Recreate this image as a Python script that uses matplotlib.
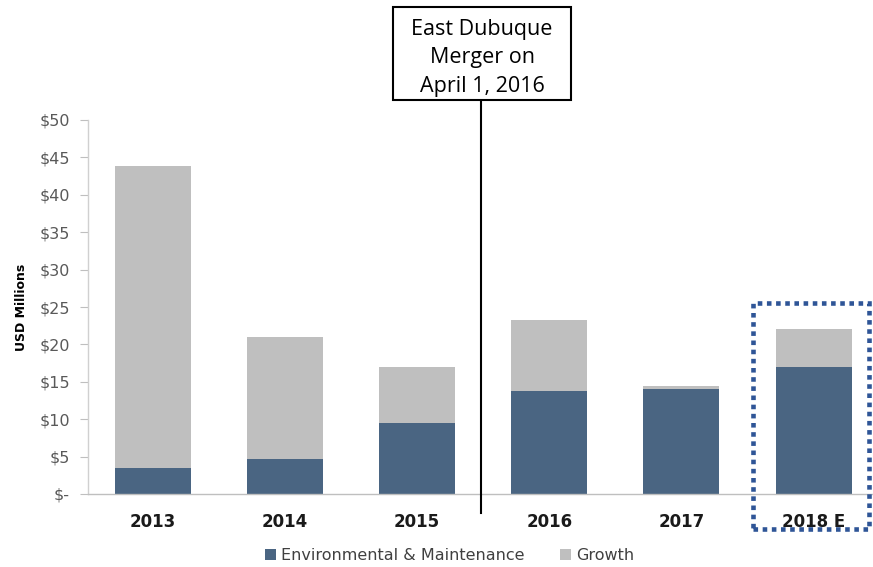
import matplotlib
matplotlib.use("Agg")
import matplotlib.pyplot as plt
from matplotlib.patches import Rectangle
import matplotlib.transforms as mtransforms

categories = ["2013", "2014", "2015", "2016", "2017", "2018 E"]
env_maint = [3.5, 4.7, 9.5, 13.8, 14.1, 17.0]
growth = [40.3, 16.3, 7.5, 9.5, 0.4, 5.0]
yticks = [0, 5, 10, 15, 20, 25, 30, 35, 40, 45, 50]
ytick_labels = ["$-", "$5", "$10", "$15", "$20", "$25", "$30", "$35", "$40", "$45", "$50"]

env_color = "#4A6582"
growth_color = "#BFBFBF"
W, H = 873, 567

plt.rcParams['font.family'] = ['DejaVu Sans']
fig = plt.figure(figsize=(W / 100, H / 100), dpi=100)
ax = fig.add_axes([88 / W, (H - 494) / H, (W - 88) / W, (494 - 120) / H])

x = list(range(len(categories)))
ax.bar(x, env_maint, width=0.575, color=env_color, label="Environmental & Maintenance", zorder=2)
ax.bar(x, growth, width=0.575, bottom=env_maint, color=growth_color, label="Growth", zorder=2)

ax.set_xlim(-0.49, 5.45)
ax.set_ylim(0, 50)
ax.set_yticks(yticks)
ax.set_yticklabels(ytick_labels, fontsize=11.5, color="#595959")
ax.set_xticks(x)
ax.set_xticklabels(categories, fontsize=12, fontweight="bold", color="#1a1a1a")
ax.tick_params(axis="x", length=0, pad=14)
ax.tick_params(axis="y", length=6, color="#BFBFBF", pad=7)
for s in ["top", "right"]:
    ax.spines[s].set_visible(False)
ax.spines["left"].set_color("#D0D0D0")
ax.spines["bottom"].set_color("#BFBFBF")
ax.spines["left"].set_linewidth(1.0)
ax.spines["bottom"].set_linewidth(1.0)
ax.set_ylabel("USD Millions", fontsize=9, fontweight="bold", labelpad=8)

# merger line
trans = mtransforms.blended_transform_factory(ax.transData, ax.transAxes)
ax.plot([2.485, 2.485], [-0.051, 1.05], color="black", lw=1.5, transform=trans, clip_on=False, zorder=3)

# annotation box (figure pixel coords)
def fx(px):
    return px / W

def fy(py):
    return (H - py) / H

fig.patches.append(Rectangle((fx(393), fy(100)), (571 - 393) / W, (100 - 7) / H,
                             transform=fig.transFigure, fill=True, facecolor="white",
                             edgecolor="black", lw=1.5, zorder=5))
fig.text(fx(482), fy(58), "East Dubuque\nMerger on\nApril 1, 2016", ha="center", va="center",
         fontsize=15.5, family="Open Sans", linespacing=1.44, zorder=6)

# dotted highlight box
fig.patches.append(Rectangle((fx(753), fy(529)), (869 - 753) / W, (529 - 303) / H,
                             transform=fig.transFigure, fill=False, edgecolor="#2F5597",
                             lw=3.3, linestyle=(0, (1, 1)), zorder=6))

leg = fig.legend(loc="lower center", bbox_to_anchor=(0.515, -0.018), ncol=2, frameon=False,
                 fontsize=11.5, handlelength=0.7, handleheight=0.7, handletextpad=0.3,
                 columnspacing=2.2)
for t in leg.get_texts():
    t.set_color("#404040")

fig.savefig("out.png", dpi=100)
